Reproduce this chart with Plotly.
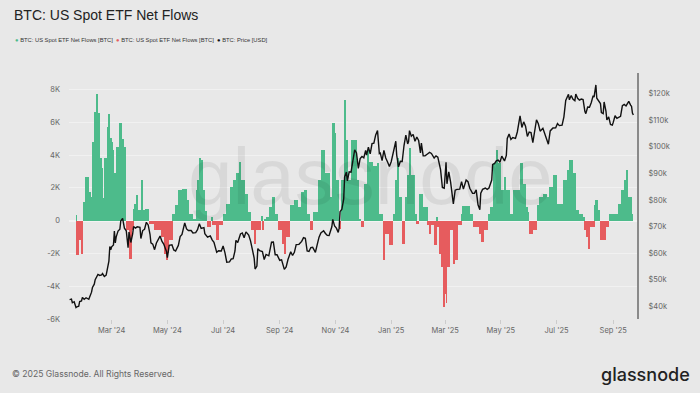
import pandas as pd
import plotly.graph_objects as go

# ---------------- data ----------------
flow_dates = [
    "2024-01-22", "2024-01-23", "2024-01-25", "2024-01-28", "2024-01-30", "2024-02-01", "2024-02-05",
    "2024-02-07", "2024-02-09", "2024-02-11", "2024-02-13", "2024-02-15", "2024-02-17", "2024-02-19",
    "2024-02-20", "2024-02-22", "2024-02-26", "2024-02-27", "2024-02-28", "2024-03-01", "2024-03-02",
    "2024-03-04", "2024-03-06", "2024-03-09", "2024-03-12", "2024-03-15", "2024-03-17", "2024-03-20",
    "2024-03-23", "2024-03-25", "2024-03-26", "2024-03-28", "2024-03-30", "2024-04-03", "2024-04-04",
    "2024-04-06", "2024-04-11", "2024-04-16", "2024-04-24", "2024-04-28", "2024-04-30", "2024-05-01",
    "2024-05-02", "2024-05-07", "2024-05-09", "2024-05-13", "2024-05-17", "2024-05-22", "2024-05-25",
    "2024-05-29", "2024-06-02", "2024-06-03", "2024-06-05", "2024-06-07", "2024-06-09", "2024-06-11",
    "2024-06-13", "2024-06-18", "2024-06-19", "2024-06-23", "2024-06-26", "2024-07-01", "2024-07-04",
    "2024-07-08", "2024-07-12", "2024-07-15", "2024-07-19", "2024-07-21", "2024-07-25", "2024-07-28",
    "2024-08-01", "2024-08-04", "2024-08-06", "2024-08-12", "2024-08-13", "2024-08-15", "2024-08-17",
    "2024-08-21", "2024-08-23", "2024-08-27", "2024-08-30", "2024-09-03", "2024-09-06", "2024-09-08",
    "2024-09-12", "2024-09-17", "2024-09-21", "2024-09-24", "2024-09-28", "2024-10-01", "2024-10-04",
    "2024-10-07", "2024-10-13", "2024-10-16", "2024-10-20", "2024-10-26", "2024-10-29", "2024-10-31",
    "2024-11-02", "2024-11-05", "2024-11-07", "2024-11-11", "2024-11-12", "2024-11-15", "2024-11-18",
    "2024-11-24", "2024-11-27", "2024-11-29", "2024-12-02", "2024-12-05", "2024-12-08", "2024-12-12",
    "2024-12-16", "2024-12-19", "2024-12-23", "2024-12-24", "2024-12-25", "2024-12-30", "2025-01-03",
    "2025-01-06", "2025-01-08", "2025-01-10", "2025-01-13", "2025-01-16", "2025-01-19", "2025-01-21",
    "2025-01-22", "2025-01-27", "2025-01-29", "2025-01-31", "2025-02-05", "2025-02-10", "2025-02-11",
    "2025-02-14", "2025-02-17", "2025-02-20", "2025-02-21", "2025-02-23", "2025-02-25", "2025-02-27",
    "2025-02-28", "2025-03-02", "2025-03-03", "2025-03-06", "2025-03-10", "2025-03-11", "2025-03-15",
    "2025-03-19", "2025-03-20", "2025-03-28", "2025-03-31", "2025-04-08", "2025-04-09", "2025-04-13",
    "2025-04-17", "2025-04-20", "2025-04-22", "2025-04-26", "2025-04-28", "2025-05-01", "2025-05-05",
    "2025-05-07", "2025-05-11", "2025-05-14", "2025-05-22", "2025-05-25", "2025-05-29", "2025-05-30",
    "2025-06-01", "2025-06-05", "2025-06-09", "2025-06-12", "2025-06-16", "2025-06-20", "2025-06-23",
    "2025-06-27", "2025-07-01", "2025-07-08", "2025-07-12", "2025-07-15", "2025-07-19", "2025-07-22",
    "2025-07-26", "2025-07-30", "2025-08-01", "2025-08-03", "2025-08-05", "2025-08-07", "2025-08-12",
    "2025-08-13", "2025-08-15", "2025-08-18", "2025-08-24", "2025-08-27", "2025-09-06", "2025-09-10",
    "2025-09-13", "2025-09-16", "2025-09-17", "2025-09-21",
]
flow_end = "2025-09-23"
flow_values = [
    370, -2080, -1200, -2020, 1140, 2670, 1750,
    1450, 4810, 6650, 7750, 6550, 3800, 3180,
    1350, 3800, 5730, 6490, 5020, 4810, 4300,
    2880, 4510, 5940, 5000, 4500, -590, -2330,
    -600, 730, 1000, 1550, 630, 2470, 630,
    730, -220, -600, -1000, -2020, -2430, -2000,
    -1200, 430, 940, 1860, 1950, 1240, 430,
    120, 1860, 2470, 3800, 3700, 1860, 600,
    -400, 220, -290, -1200, -290, 430, 1040,
    2060, 2470, 2880, 3590, 2470, 1650, 530,
    -590, -1400, -590, 300, -590, 100, 220,
    840, 1450, 430, -590, -1400, -2020, -1000,
    940, 1240, 840, 1750, 1860, 430, -590,
    530, 2470, 4300, 2880, 1450, 5940, 5320,
    2470, -490, 2470, 7360, 4920, 2470, 4920,
    2470, 100, -390, 2260, 4300, 3590, 3300,
    3490, 430, -590, -2430, -800, -1510, 430,
    2470, 3800, 1450, -1400, 1450, 2800, 4400,
    2800, 430, -220, 1650, 840, -290, -800,
    -290, -1500, 200, -390, -2020, -2840, -5280,
    -4470, -5000, -2840, -590, -2630, -2430, -290,
    430, 880, 430, -390, -800, -1300, -590,
    430, 840, 3490, 4300, 3490, 1860, 2670,
    1860, 430, 1860, 3490, 2260, 840, 530,
    -800, -590, 940, 1450, 1650, 1450, 2060,
    2770, 1040, 2470, 3080, 3690, 2880, 630,
    430, 200, -590, -1000, -1710, -390, 940,
    1240, 630, -1200, -390, 430, 1040, 1860,
    2470, 3080, 1450, 430,
]

price_dates = [
    "2024-01-15", "2024-01-17", "2024-01-18", "2024-01-20", "2024-01-22", "2024-01-23", "2024-01-25",
    "2024-01-26", "2024-01-28", "2024-01-29", "2024-01-31", "2024-02-02", "2024-02-05", "2024-02-07",
    "2024-02-08", "2024-02-09", "2024-02-11", "2024-02-12", "2024-02-14", "2024-02-15", "2024-02-17",
    "2024-02-19", "2024-02-20", "2024-02-22", "2024-02-24", "2024-02-26", "2024-02-27", "2024-02-28",
    "2024-02-29", "2024-03-01", "2024-03-03", "2024-03-04", "2024-03-05", "2024-03-06", "2024-03-08",
    "2024-03-10", "2024-03-11", "2024-03-13", "2024-03-14", "2024-03-15", "2024-03-17", "2024-03-19",
    "2024-03-20", "2024-03-22", "2024-03-24", "2024-03-25", "2024-03-27", "2024-03-29", "2024-04-01",
    "2024-04-02", "2024-04-04", "2024-04-06", "2024-04-08", "2024-04-10", "2024-04-12", "2024-04-13",
    "2024-04-15", "2024-04-17", "2024-04-19", "2024-04-21", "2024-04-23", "2024-04-25", "2024-04-27",
    "2024-04-30", "2024-05-01", "2024-05-03", "2024-05-06", "2024-05-08", "2024-05-10", "2024-05-13",
    "2024-05-15", "2024-05-17", "2024-05-20", "2024-05-22", "2024-05-24", "2024-05-27", "2024-05-29",
    "2024-06-01", "2024-06-03", "2024-06-05", "2024-06-07", "2024-06-10", "2024-06-11", "2024-06-14",
    "2024-06-17", "2024-06-19", "2024-06-21", "2024-06-24", "2024-06-26", "2024-06-29", "2024-07-01",
    "2024-07-03", "2024-07-05", "2024-07-08", "2024-07-10", "2024-07-12", "2024-07-14", "2024-07-15",
    "2024-07-17", "2024-07-20", "2024-07-22", "2024-07-24", "2024-07-26", "2024-07-29", "2024-07-31",
    "2024-08-02", "2024-08-04", "2024-08-05", "2024-08-07", "2024-08-08", "2024-08-10", "2024-08-13",
    "2024-08-15", "2024-08-17", "2024-08-20", "2024-08-23", "2024-08-25", "2024-08-27", "2024-08-29",
    "2024-09-01", "2024-09-03", "2024-09-06", "2024-09-08", "2024-09-10", "2024-09-13", "2024-09-15",
    "2024-09-17", "2024-09-19", "2024-09-22", "2024-09-25", "2024-09-27", "2024-09-29", "2024-10-01",
    "2024-10-03", "2024-10-05", "2024-10-07", "2024-10-10", "2024-10-12", "2024-10-14", "2024-10-16",
    "2024-10-19", "2024-10-21", "2024-10-23", "2024-10-25", "2024-10-28", "2024-10-29", "2024-10-31",
    "2024-11-02", "2024-11-04", "2024-11-05", "2024-11-06", "2024-11-08", "2024-11-10", "2024-11-11",
    "2024-11-13", "2024-11-14", "2024-11-16", "2024-11-18", "2024-11-20", "2024-11-22", "2024-11-24",
    "2024-11-26", "2024-11-28", "2024-11-30", "2024-12-02", "2024-12-04", "2024-12-05", "2024-12-07",
    "2024-12-09", "2024-12-11", "2024-12-13", "2024-12-15", "2024-12-17", "2024-12-19", "2024-12-20",
    "2024-12-22", "2024-12-24", "2024-12-26", "2024-12-28", "2024-12-30", "2025-01-01", "2025-01-03",
    "2025-01-06", "2025-01-07", "2025-01-09", "2025-01-11", "2025-01-13", "2025-01-15", "2025-01-17",
    "2025-01-19", "2025-01-20", "2025-01-21", "2025-01-23", "2025-01-25", "2025-01-27", "2025-01-29",
    "2025-01-31", "2025-02-02", "2025-02-03", "2025-02-05", "2025-02-07", "2025-02-10", "2025-02-12",
    "2025-02-14", "2025-02-17", "2025-02-19", "2025-02-21", "2025-02-24", "2025-02-26", "2025-02-28",
    "2025-03-02", "2025-03-03", "2025-03-05", "2025-03-07", "2025-03-09", "2025-03-10", "2025-03-12",
    "2025-03-14", "2025-03-17", "2025-03-19", "2025-03-21", "2025-03-24", "2025-03-26", "2025-03-28",
    "2025-03-31", "2025-04-02", "2025-04-04", "2025-04-06", "2025-04-08", "2025-04-09", "2025-04-11",
    "2025-04-14", "2025-04-16", "2025-04-18", "2025-04-21", "2025-04-22", "2025-04-24", "2025-04-26",
    "2025-04-28", "2025-04-30", "2025-05-02", "2025-05-05", "2025-05-07", "2025-05-08", "2025-05-10",
    "2025-05-12", "2025-05-14", "2025-05-17", "2025-05-19", "2025-05-21", "2025-05-22", "2025-05-24",
    "2025-05-26", "2025-05-28", "2025-05-30", "2025-06-01", "2025-06-03", "2025-06-05", "2025-06-07",
    "2025-06-09", "2025-06-11", "2025-06-13", "2025-06-16", "2025-06-18", "2025-06-20", "2025-06-22",
    "2025-06-24", "2025-06-27", "2025-06-30", "2025-07-02", "2025-07-04", "2025-07-07", "2025-07-09",
    "2025-07-10", "2025-07-11", "2025-07-14", "2025-07-15", "2025-07-17", "2025-07-19", "2025-07-21",
    "2025-07-22", "2025-07-24", "2025-07-26", "2025-07-28", "2025-07-30", "2025-08-01", "2025-08-02",
    "2025-08-04", "2025-08-06", "2025-08-08", "2025-08-10", "2025-08-11", "2025-08-13", "2025-08-14",
    "2025-08-16", "2025-08-18", "2025-08-19", "2025-08-21", "2025-08-22", "2025-08-24", "2025-08-25",
    "2025-08-27", "2025-08-29", "2025-08-31", "2025-09-01", "2025-09-03", "2025-09-05", "2025-09-07",
    "2025-09-09", "2025-09-11", "2025-09-13", "2025-09-15", "2025-09-17", "2025-09-18", "2025-09-20",
    "2025-09-21", "2025-09-22", "2025-09-23",
]
price_values = [
    42.5, 42.7, 41.3, 41.7, 39.5, 39.8, 40.0,
    41.8, 42.0, 43.3, 42.6, 43.2, 42.6, 44.3,
    45.3, 47.1, 48.3, 50.0, 51.8, 52.0, 51.6,
    51.8, 52.3, 51.2, 51.7, 54.5, 57.0, 62.5,
    61.2, 62.4, 63.1, 68.3, 63.8, 66.1, 68.3,
    69.0, 72.1, 73.1, 71.4, 69.4, 68.4, 62.0,
    67.9, 64.0, 67.2, 70.0, 69.4, 69.9, 69.7,
    65.5, 68.5, 69.0, 71.6, 70.6, 67.1, 63.9,
    63.4, 61.3, 63.8, 64.9, 66.4, 64.5, 63.4,
    60.6, 58.3, 62.9, 63.1, 61.2, 60.8, 62.9,
    66.2, 67.0, 71.4, 69.1, 68.5, 68.5, 67.6,
    67.7, 68.8, 71.1, 69.3, 69.6, 67.3, 66.0,
    66.5, 65.0, 64.1, 60.3, 60.9, 60.8, 62.7,
    60.2, 56.6, 56.7, 57.8, 57.9, 60.8, 64.8,
    64.0, 67.2, 67.6, 65.8, 68.0, 66.8, 64.6,
    61.4, 58.1, 54.0, 55.1, 61.7, 60.9, 60.6,
    57.6, 59.5, 59.0, 64.1, 64.2, 59.4, 59.4,
    57.3, 57.5, 53.9, 54.8, 57.6, 60.5, 59.1,
    60.3, 63.2, 63.3, 64.4, 65.8, 65.6, 60.8,
    60.6, 62.1, 62.2, 60.3, 63.2, 66.0, 67.6,
    68.4, 67.4, 66.7, 66.6, 69.9, 72.7, 70.2,
    69.4, 67.8, 69.4, 75.6, 76.5, 80.4, 88.7,
    90.5, 87.2, 90.6, 90.5, 94.3, 98.9, 97.7,
    91.9, 95.6, 96.4, 95.9, 98.7, 96.9, 99.9,
    97.4, 101.2, 101.4, 104.5, 106.1, 97.5, 97.7,
    94.8, 98.7, 95.8, 94.3, 92.6, 94.4, 98.1,
    102.1, 96.9, 92.5, 94.6, 94.5, 100.5, 104.4,
    101.1, 102.0, 106.1, 104.0, 104.7, 102.1, 103.7,
    102.4, 97.7, 101.4, 96.6, 96.6, 97.4, 97.9,
    97.5, 95.8, 96.6, 96.1, 91.4, 84.7, 84.4,
    94.2, 86.1, 90.6, 86.7, 80.7, 78.5, 83.7,
    84.0, 84.1, 86.9, 84.1, 87.5, 86.9, 84.4,
    82.5, 82.5, 83.8, 78.2, 76.3, 82.6, 84.0,
    84.5, 84.0, 84.5, 87.5, 93.4, 93.7, 94.7,
    95.0, 94.2, 96.5, 94.7, 96.8, 103.2, 104.8,
    102.8, 103.5, 103.2, 105.6, 109.6, 111.7, 107.3,
    109.4, 107.8, 103.9, 105.6, 105.4, 101.6, 105.7,
    110.2, 108.7, 105.9, 107.0, 104.8, 103.3, 101.0,
    106.0, 107.1, 107.2, 108.8, 108.0, 108.2, 111.3,
    116.0, 117.5, 119.8, 117.7, 119.3, 117.9, 117.4,
    119.9, 118.3, 117.6, 118.0, 117.8, 113.3, 112.5,
    115.0, 114.9, 116.7, 119.3, 118.7, 123.3, 118.3,
    117.4, 116.3, 112.9, 112.5, 116.9, 113.5, 110.1,
    111.3, 108.4, 108.2, 109.2, 111.7, 110.7, 111.1,
    111.5, 115.5, 116.0, 115.4, 116.8, 117.1, 115.7,
    115.3, 112.7, 112.0,
]  # thousands of USD

left_ticks = [-6000, -4000, -2000, 0, 2000, 4000, 6000, 8000]
left_labels = ["-6K", "-4K", "-2K", "0", "2K", "4K", "6K", "8K"]
right_ticks = [40000, 50000, 60000, 70000, 80000, 90000, 100000, 110000, 120000]
right_labels = ["$40k", "$50k", "$60k", "$70k", "$80k", "$90k", "$100k", "$110k", "$120k"]

# ---------------- figure ----------------
GREEN = "#4dbb8b"
RED = "#e65c5e"
BG = "#e8e8e8"
FONT = "Inter, Roboto, sans-serif"
FONT_N = "Liberation Sans, Arial, sans-serif"

W, H = 700, 393
ML, MR, MT, MB = 69, 63, 73, 74

starts = pd.to_datetime(flow_dates)
ends = list(starts[1:]) + [pd.Timestamp(flow_end)]
widths = [(e - s).total_seconds() * 1000 for s, e in zip(starts, ends)]

pos = [v if v >= 0 else None for v in flow_values]
neg = [v if v < 0 else None for v in flow_values]

fig = go.Figure()
fig.add_trace(go.Bar(x=starts, y=pos, width=widths, offset=0, marker=dict(color=GREEN, line=dict(width=0)),
                     name="BTC: US Spot ETF Net Flows [BTC]", showlegend=False))
fig.add_trace(go.Bar(x=starts, y=neg, width=widths, offset=0, marker=dict(color=RED, line=dict(width=0)),
                     name="BTC: US Spot ETF Net Flows [BTC]", showlegend=False))
fig.add_trace(go.Scatter(x=pd.to_datetime(price_dates), y=[p * 1000 for p in price_values], yaxis="y2",
                         mode="lines", line=dict(color="#111111", width=1.4), name="BTC: Price [USD]",
                         showlegend=False))

tickfont = dict(family=FONT, size=7.5, color="#666666")

fig.update_layout(
    width=W, height=H,
    paper_bgcolor=BG, plot_bgcolor=BG,
    margin=dict(l=ML, r=MR, t=MT, b=MB),
    barmode="overlay", bargap=0,
    xaxis=dict(
        type="date", range=["2024-01-14 08:00", "2025-09-27"],
        dtick="M2", tick0="2024-03-01", tickformat="%b '%y",
        showgrid=False, ticks="outside", ticklen=4, tickcolor="#cccccc",
        tickfont=tickfont, showline=False, zeroline=False,
    ),
    yaxis=dict(
        range=[-6000, 9000], tickvals=left_ticks, ticktext=left_labels,
        showgrid=True, gridcolor="#f1f1f1", gridwidth=1,
        zeroline=True, zerolinecolor="#f3f3f3", zerolinewidth=1.5,
        tickfont=tickfont, ticks="", ticklabelstandoff=8,
    ),
    yaxis2=dict(
        overlaying="y", side="right", range=[35200, 127800],
        tickvals=right_ticks, ticktext=right_labels, showgrid=False, zeroline=False,
        showline=True, linecolor="#8a8a8a", linewidth=2,
        tickfont=tickfont, ticks="", ticklabelstandoff=8,
    ),
    font=dict(family=FONT),
)

W_PLOT = W - ML - MR
H_PLOT = H - MT - MB


def px(x, y_top):
    """pixel position (from top-left of the page) -> paper coordinates"""
    return (x - ML) / W_PLOT, ((H - y_top) - MB) / H_PLOT


# watermark
wx, wy = px(370, 176)
fig.add_annotation(x=wx, y=wy, xref="paper", yref="paper", text="glassnode", showarrow=False,
                   xanchor="center", yanchor="middle",
                   font=dict(family=FONT_N, size=80, color="rgba(0,0,0,0.065)"))

# title
tx, ty = px(12, 15)
fig.add_annotation(x=tx, y=ty, xref="paper", yref="paper", text="BTC: US Spot ETF Net Flows",
                   showarrow=False, xanchor="left", yanchor="middle",
                   font=dict(family=FONT_N, size=14, color="#222222"))

# legend (manual)
legend_items = [(13, GREEN, "BTC: US Spot ETF Net Flows [BTC]"),
                (114, RED, "BTC: US Spot ETF Net Flows [BTC]"),
                (215, "#111111", "BTC: Price [USD]")]
for lx, col, txt in legend_items:
    ax_, ay_ = px(lx, 40)
    fig.add_annotation(x=ax_, y=ay_, xref="paper", yref="paper",
                       text=f"<span style='color:{col}'>●</span> {txt}",
                       showarrow=False, xanchor="left", yanchor="middle",
                       font=dict(family=FONT_N, size=5.8, color="#333333"))

# footer
fx, fy = px(10, 374)
fig.add_annotation(x=fx, y=fy, xref="paper", yref="paper",
                   text="© 2025 Glassnode. All Rights Reserved.", showarrow=False,
                   xanchor="left", yanchor="middle",
                   font=dict(family=FONT, size=8.6, color="#666666"))
gx, gy = px(692, 374)
fig.add_annotation(x=gx, y=gy, xref="paper", yref="paper", text="glassnode", showarrow=False,
                   xanchor="right", yanchor="middle",
                   font=dict(family=FONT, size=18, color="#222222", weight=500))

fig.write_html("out.html", config={"displayModeBar": False},
               post_script="document.body.style.margin='0';document.body.style.overflow='hidden';")
